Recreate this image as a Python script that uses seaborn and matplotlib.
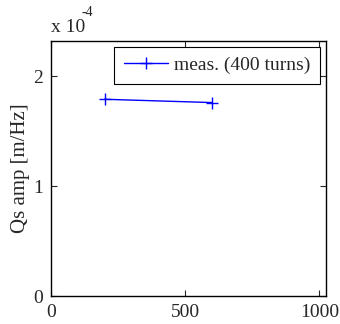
import matplotlib
matplotlib.use("Agg")
import matplotlib.pyplot as plt
import pandas as pd
import seaborn as sns

# data (y in units of 1e-4 m/Hz)
turns = [200, 600]
qs_amp = [1.79, 1.76]
series_label = "meas. (400 turns)"

sns.set_style("ticks")
plt.rcParams['font.family'] = ['Liberation Serif', 'DejaVu Serif']
plt.rcParams['font.size'] = 14

df = pd.DataFrame({"turns": turns, "qs": qs_amp})

fig = plt.figure(figsize=(3.4, 3.24), dpi=100)
ax = fig.add_axes([0.15, 0.0864, 0.809, 0.787])

sns.lineplot(data=df, x="turns", y="qs", ax=ax, color="blue", marker="+",
             markersize=8, markeredgewidth=1.0, markeredgecolor="blue",
             linewidth=1.0, label=series_label)

ax.set_xlim(0, 1025)
ax.set_ylim(0, 2.32)
ax.set_xticks([0, 500, 1000])
ax.set_yticks([0, 1, 2])
ax.set_xticklabels(["0", "500", "1000"])
ax.set_yticklabels(["0", "1", "2"])
ax.set_xlabel("")
ax.set_ylabel("Qs amp [m/Hz]", fontsize=15, labelpad=2)
ax.tick_params(direction="in", top=True, right=True, length=4, width=0.8,
               labelsize=14, pad=6)
for s in ax.spines.values():
    s.set_linewidth(1.0)
    s.set_color("black")

ax.text(0.0, 1.02, "x 10", transform=ax.transAxes, fontsize=14,
        ha="left", va="bottom")
ax.text(0.11, 1.085, "-4", transform=ax.transAxes, fontsize=10,
        ha="left", va="bottom")

leg = ax.legend(loc="upper right", frameon=True, fancybox=False,
                edgecolor="black", framealpha=1, handlelength=2.3,
                handletextpad=0.3, borderpad=0.5,
                borderaxespad=0.3, fontsize=14)
leg.get_frame().set_linewidth(0.8)

fig.savefig("out.png", dpi=100)
